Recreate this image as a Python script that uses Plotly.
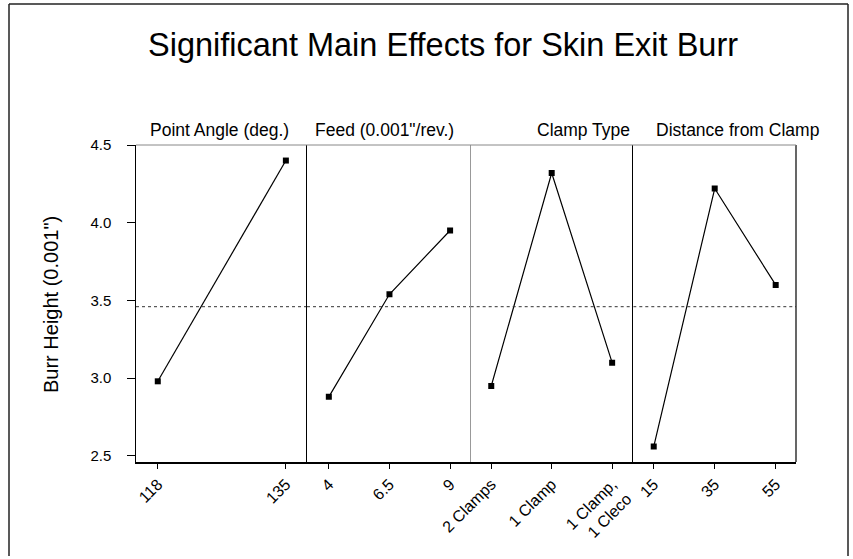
import plotly.graph_objects as go

W, H = 853, 559

factor_titles = ["Point Angle (deg.)", "Feed (0.001\"/rev.)", "Clamp Type", "Distance from Clamp"]
point_angle_levels = ["118", "135"]
point_angle_means = [2.98, 4.40]
feed_levels = ["4", "6.5", "9"]
feed_means = [2.88, 3.54, 3.95]
clamp_levels = ["2 Clamps", "1 Clamp", "1 Clamp,<br>1 Cleco"]
clamp_means = [2.95, 4.32, 3.10]
distance_levels = ["15", "35", "55"]
distance_means = [2.56, 4.22, 3.60]
grand_mean = 3.46
y_ticks = [2.5, 3.0, 3.5, 4.0, 4.5]

panels = [
    (point_angle_levels, point_angle_means),
    (feed_levels, feed_means),
    (clamp_levels, clamp_means),
    (distance_levels, distance_means),
]

# pixel layout
xedges = [136, 307, 470.7, 633.3, 796]
ytop, ybot = 145, 462
xranges = [[-0.17, 1.165], [-0.36, 2.34], [-0.34, 2.35], [-0.335, 2.333]]
title_x = [219, 384, 583, 737]

def px(x):
    return x / W

def py(y):
    return 1 - y / H

fig = go.Figure()
font = "Liberation Sans, Arial, sans-serif"
pad = "\u00a0" * 3

for i, (levels, means) in enumerate(panels):
    n = i + 1
    xa = "x" if n == 1 else f"x{n}"
    ya = "y" if n == 1 else f"y{n}"
    idx = list(range(len(levels)))
    fig.add_trace(go.Scatter(
        x=idx, y=means, xaxis=xa, yaxis=ya, mode="lines+markers",
        line=dict(color="black", width=1.2),
        marker=dict(symbol="square", size=6, color="black"),
        showlegend=False, hoverinfo="skip"))
    fig.add_trace(go.Scatter(
        x=[xranges[i][0], xranges[i][1]], y=[grand_mean, grand_mean],
        xaxis=xa, yaxis=ya, mode="lines",
        line=dict(color="#333333", width=1, dash="dot"),
        showlegend=False, hoverinfo="skip"))
    xkey = "xaxis" if n == 1 else f"xaxis{n}"
    ykey = "yaxis" if n == 1 else f"yaxis{n}"
    fig.layout[xkey] = dict(
        domain=[px(xedges[i]), px(xedges[i + 1])],
        anchor=ya, range=xranges[i], automargin=False,
        tickvals=idx, ticktext=levels, tickangle=-45,
        ticks="outside", ticklen=5, tickcolor="black",
        showline=True, linecolor="black", linewidth=1.5,
        showgrid=False, zeroline=False, fixedrange=True,
        tickfont=dict(family=font, size=16, color="black"),
    )
    fig.layout[ykey] = dict(
        domain=[py(ybot), py(ytop)],
        anchor=xa, range=[2.461, 4.5], automargin=False,
        tickvals=y_ticks, ticktext=[f"{v:.1f}{pad}" for v in y_ticks],
        ticks="outside" if n == 1 else "", ticklen=8, tickcolor="black",
        showticklabels=(n == 1),
        showline=True, linecolor=("#999999" if n == 3 else "black"), linewidth=1.2,
        showgrid=False, zeroline=False, fixedrange=True,
        tickfont=dict(family=font, size=15, color="black"),
    )
    fig.add_annotation(
        text=factor_titles[i], x=px(title_x[i]), y=py(130), xref="paper", yref="paper",
        showarrow=False, xanchor="center", yanchor="middle",
        font=dict(family=font, size=17.5, color="black"))

# right edge and top edge of panel strip
fig.add_shape(type="line", xref="paper", yref="paper",
              x0=px(xedges[-1]), x1=px(xedges[-1]), y0=py(ybot), y1=py(ytop),
              line=dict(color="black", width=1.2))
fig.add_shape(type="line", xref="paper", yref="paper",
              x0=px(xedges[0]), x1=px(xedges[-1]), y0=py(ytop), y1=py(ytop),
              line=dict(color="#888888", width=1))

# outer frame
fig.add_shape(type="line", xref="paper", yref="paper", x0=px(9), x1=px(9), y0=py(556), y1=py(4),
              line=dict(color="#222222", width=1.5))
fig.add_shape(type="line", xref="paper", yref="paper", x0=px(9), x1=px(848), y0=py(4), y1=py(4),
              line=dict(color="#222222", width=1.5))
fig.add_shape(type="line", xref="paper", yref="paper", x0=px(848), x1=px(848), y0=py(4), y1=py(556),
              line=dict(color="#222222", width=1.5))

fig.add_annotation(
    text="Significant Main Effects for Skin Exit Burr", x=px(443), y=py(45),
    xref="paper", yref="paper", showarrow=False, xanchor="center", yanchor="middle",
    font=dict(family=font, size=32.5, color="black"))
fig.add_annotation(
    text="Burr Height (0.001\")", x=px(51), y=py(305), textangle=-90,
    xref="paper", yref="paper", showarrow=False, xanchor="center", yanchor="middle",
    font=dict(family=font, size=20, color="black"))

fig.update_layout(
    width=W, height=H, margin=dict(l=0, r=0, t=0, b=0, autoexpand=False),
    paper_bgcolor="white", plot_bgcolor="white",
)

fig.write_html("out.html")
